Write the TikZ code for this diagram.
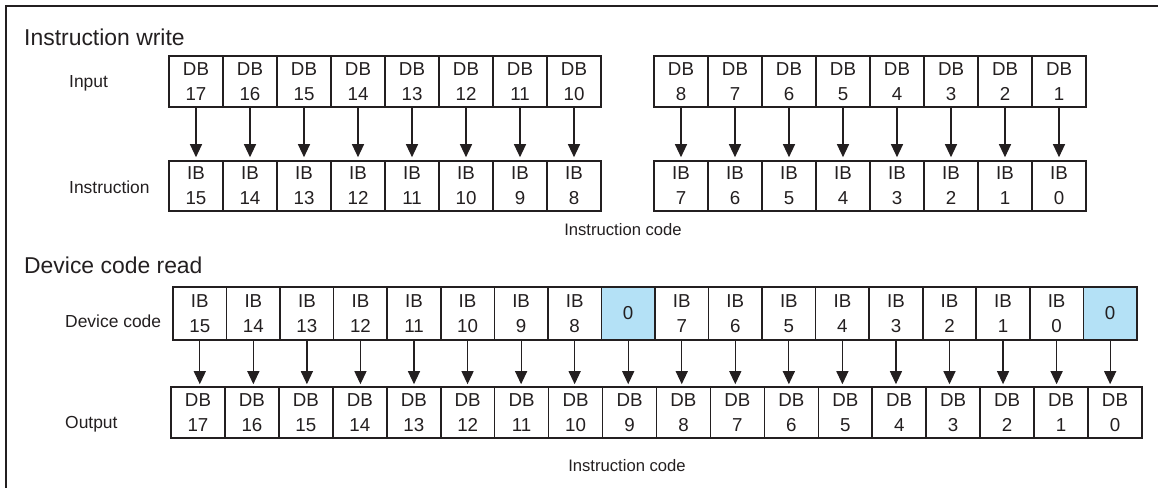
\documentclass[tikz,border=0pt]{standalone}
\usepackage{fontspec}
\setmainfont{Liberation Sans}
\usetikzlibrary{arrows.meta}
\definecolor{cellblue}{RGB}{180,225,246}
\definecolor{ink}{RGB}{35,31,32}
\begin{document}
\begin{tikzpicture}[x=1bp,y=-1bp,
  cell/.style={draw=ink, line width=1.6bp, minimum width=54bp, minimum height=51bp,
    inner sep=0pt, align=center, font=\fontsize{18.8}{25}\selectfont, text=ink},
  lbl/.style={anchor=base west, font=\fontsize{17.5}{20}\selectfont, text=ink, inner sep=0pt},
  head/.style={anchor=base west, font=\fontsize{23}{26}\selectfont, text=ink, inner sep=0pt},
  captxt/.style={anchor=base, font=\fontsize{16.7}{20}\selectfont, text=ink, inner sep=0pt},
  arr/.style={draw=ink, line width=1.2bp, -{Triangle[width=12bp,length=13bp]}, shorten >=3bp}]
\useasboundingbox (0,0) rectangle (1158,488);
% frame
\draw[line width=2.4bp, ink] (6,488) -- (6,6) -- (1158,6);

% ---------- Instruction write ----------
\node[head] (h1) at (24,45.5) {Instruction write};
\node[lbl] (lin) at (69,88) {Input};
\node[lbl] (lins) at (69,194) {Instruction};
\foreach \i/\a/\b in {0/17/15,1/16/14,2/15/13,3/14/12,4/13/11,5/12/10,6/11/9,7/10/8}{
  \node[cell] (in\i) at (196+54*\i,81.5) {DB\\\a};
  \node[cell, minimum height=50bp] (ins\i) at (196+54*\i,186) {IB\\\b};
  \draw[arr] (in\i.south) -- (ins\i.north);
}
\foreach \i/\a/\b in {8/8/7,9/7/6,10/6/5,11/5/4,12/4/3,13/3/2,14/2/1,15/1/0}{
  \node[cell] (in\i) at (681+54*\i-432,81.5) {DB\\\a};
  \node[cell, minimum height=50bp] (ins\i) at (681+54*\i-432,186) {IB\\\b};
  \draw[arr] (in\i.south) -- (ins\i.north);
}
\node[captxt] (c1) at (623,236) {Instruction code};

% ---------- Device code read ----------
\node[head] (h2) at (24,274) {Device code read};
\node[lbl] (ldc) at (65,328) {Device code};
\node[lbl] (lout) at (65,428) {Output};
\foreach \i/\n in {0/15,1/14,2/13,3/12,4/11,5/10,6/9,7/8,9/7,10/6,11/5,12/4,13/3,14/2,15/1,16/0}{
  \node[cell, minimum width=53.55bp, minimum height=53bp] (dc\i) at (199.8+53.55*\i,313.5) {IB\\\n};
}
\node[cell, minimum width=53.55bp, minimum height=53bp, fill=cellblue] (dc8) at (199.8+53.55*8,313.5) {0};
\node[cell, minimum width=53.55bp, minimum height=53bp, fill=cellblue] (dc17) at (199.8+53.55*17,313.5) {0};
\foreach \i in {0,...,17}{
  \pgfmathtruncatemacro\n{17-\i}
  \node[cell, minimum width=53.94bp] (out\i) at (198+53.94*\i,412.5) {DB\\\n};
  \draw[arr, shorten >=2bp] (dc\i.south) -- (dc\i.south |- out\i.north);
}
\node[captxt] (c2) at (627,471) {Instruction code};
\end{tikzpicture}
\end{document}
